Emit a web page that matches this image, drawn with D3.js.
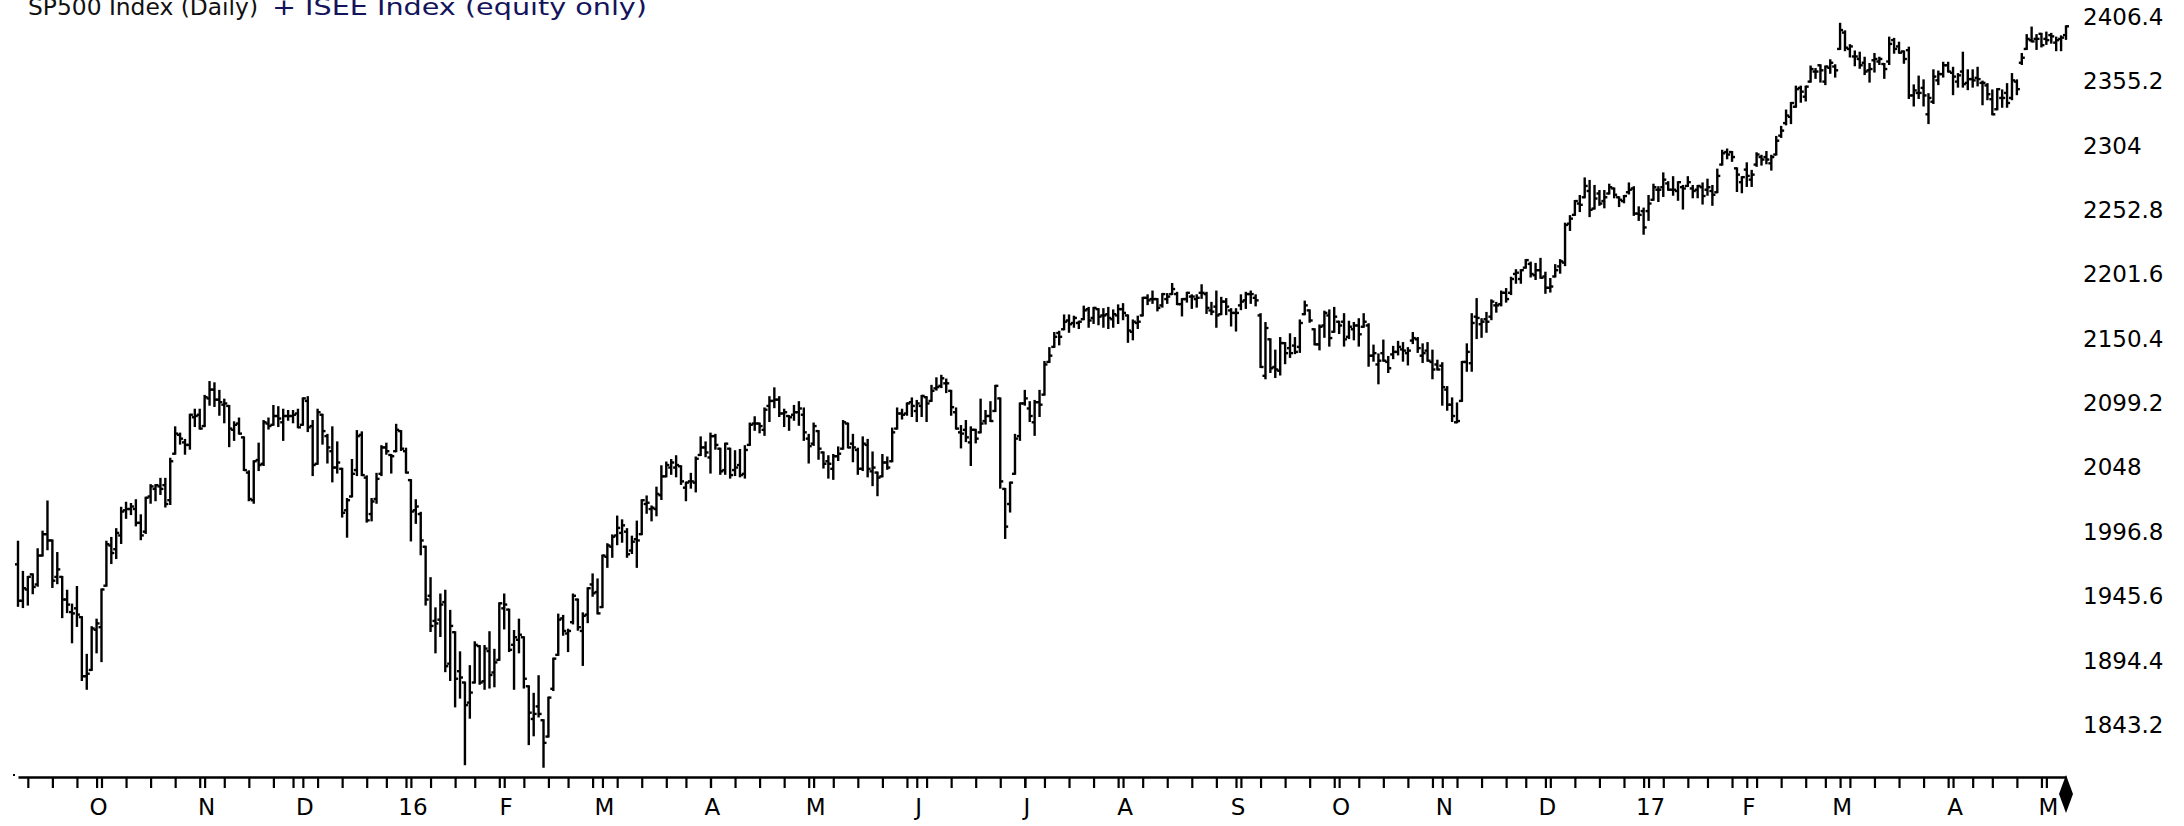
<!DOCTYPE html>
<html>
<head>
<meta charset="utf-8">
<script src="https://cdn.jsdelivr.net/npm/d3@7"></script>
<style>
  body { margin: 0; background: #fff; }
  svg { display: block; }
</style>
</head>
<body>
<div id="chart"></div>
<script>
// Data: daily OHLC, first bar 2015-09-09, one value per trading day
var startDate = "2015-09-09";
var holidays = ["2015-11-26", "2015-12-25", "2016-01-01", "2016-01-18", "2016-02-15", "2016-03-25",
  "2016-05-30", "2016-07-04", "2016-09-05", "2016-11-24", "2016-12-26", "2017-01-02",
  "2017-01-16", "2017-02-20", "2017-04-14"];

var openVals = [
  // Sep 15
  1971,1942,1951,1963,1955,1978,1995,1990,1961,1961,1943,1933,1936,1929,1882,1887,
  // Oct 15
  1919,1921,1954,1986,1983,1994,2014,2015,2015,2004,1997,2025,2031,2033,2034,2022,2059,2074,2068,2066,2088,2090,
  // Nov 15
  2081,2103,2110,2102,2098,2097,2078,2083,2072,2044,2022,2054,2051,2083,2082,2089,2084,2089,2089,2091,
  // Dec 15
  2082,2101,2081,2051,2090,2073,2061,2048,2047,2014,2025,2046,2074,2040,2011,2023,2043,2064,2058,2061,2077,2061,
  // Jan 16
  2038,2014,2011,1985,1946,1926,1927,1941,1892,1917,1886,1877,1861,1877,1906,1878,1902,1885,1895,
  // Feb 16
  1936,1935,1907,1911,1913,1874,1848,1858,1847,1834,1872,1899,1928,1916,1925,1943,1918,1931,1955,1949,
  // Mar 16
  1937,1977,1985,1994,1996,1997,1982,1991,1995,2019,2015,2015,2026,2041,2048,2048,2049,2032,2037,2036,2058,2064,
  // Apr 16
  2056,2073,2063,2046,2063,2046,2050,2043,2066,2083,2083,2078,2097,2101,2102,2091,2089,2090,2092,2090,2071,
  // May 16
  2067,2077,2060,2053,2047,2057,2063,2083,2067,2062,2047,2066,2045,2044,2041,2052,2053,2079,2091,2091,2100,
  // Jun 16
  2093,2097,2104,2101,2111,2113,2115,2109,2092,2076,2078,2068,2078,2076,2085,2089,2093,2103,2031,2019,2043,2073,
  // Jul 16
  2099,2095,2084,2100,2106,2132,2144,2155,2158,2165,2163,2163,2166,2174,2167,2174,2169,2170,2166,2169,
  // Aug 16
  2174,2169,2156,2163,2169,2183,2182,2182,2177,2182,2186,2186,2178,2182,2184,2182,2187,2186,2173,2176,2170,2180,2173,
  // Sep 16
  2171,2177,2181,2186,2183,2169,2121,2150,2128,2125,2147,2143,2145,2144,2170,2173,2158,2146,2161,2169,2156,
  // Oct 16
  2164,2164,2152,2158,2161,2160,2161,2137,2130,2139,2132,2138,2140,2142,2139,2149,2150,2137,2141,2132,2130,
  // Nov 16
  2129,2110,2098,2084,2101,2132,2131,2168,2162,2166,2168,2177,2178,2187,2187,2202,2198,2207,2210,2201,2205,
  // Dec 16
  2200,2191,2200,2208,2211,2242,2249,2258,2263,2268,2254,2266,2260,2266,2270,2263,2260,2267,2270,2250,2252,
  // Jan 17
  2252,2261,2269,2271,2274,2269,2268,2271,2272,2270,2269,2271,2269,2268,2267,2289,2299,2299,2286,2275,
  // Feb 17
  2285,2277,2289,2295,2295,2290,2297,2312,2322,2327,2335,2350,2343,2355,2363,2368,2355,2366,2367,
  // Mar 17
  2381,2394,2381,2375,2373,2370,2364,2372,2371,2369,2371,2388,2383,2379,2380,2344,2346,2350,2329,2339,2356,2361,2368,
  // Apr 17
  2362,2355,2363,2354,2357,2358,2354,2352,2341,2333,2342,2346,2342,2355,2370,2381,2388,2389,2393,
  // May 17
  2389,2392,2386,2389,2392
];

var highVals = [
  1989,1965,1961,1963,1983,1997,2021,1990,1980,1961,1950,1939,1953,1929,1899,1921,
  1927,1951,1989,1992,1999,2016,2020,2019,2022,2010,2024,2034,2034,2039,2039,2055,2080,2075,2070,2090,2094,2094,
  2105,2116,2115,2109,2102,2097,2084,2087,2072,2045,2053,2067,2085,2087,2097,2096,2094,2093,2093,2094,
  2103,2104,2085,2094,2090,2074,2080,2068,2047,2023,2054,2077,2076,2041,2023,2043,2065,2067,2058,2082,2077,2063,
  2038,2022,2012,1985,1960,1936,1947,1950,1934,1917,1901,1877,1890,1909,1906,1906,1917,1903,1940,
  1947,1935,1918,1927,1913,1874,1868,1882,1847,1865,1896,1931,1930,1919,1947,1943,1932,1952,1963,1959,
  1978,1987,1994,2009,2006,1999,1993,2005,2022,2025,2017,2032,2049,2052,2054,2057,2049,2036,2043,2056,2072,2068,
  2075,2074,2063,2067,2063,2061,2062,2065,2083,2088,2083,2095,2104,2111,2104,2094,2089,2097,2100,2095,2074,
  2083,2077,2060,2057,2058,2064,2085,2083,2074,2063,2072,2070,2060,2044,2058,2056,2079,2095,2094,2099,2103,
  2101,2105,2104,2113,2119,2121,2118,2109,2095,2081,2085,2080,2078,2102,2093,2100,2113,2103,2031,2036,2074,2099,
  2109,2100,2101,2109,2132,2143,2155,2156,2169,2169,2168,2164,2176,2175,2175,2174,2174,2175,2173,2177,
  2178,2169,2165,2168,2183,2185,2188,2182,2186,2186,2194,2187,2182,2187,2185,2185,2193,2187,2179,2188,2183,2182,2174,
  2174,2185,2187,2188,2185,2170,2163,2150,2141,2151,2147,2154,2151,2165,2180,2173,2158,2161,2172,2173,2175,
  2164,2170,2164,2163,2166,2170,2162,2145,2138,2149,2136,2144,2148,2147,2143,2155,2151,2146,2147,2141,2133,
  2131,2112,2103,2099,2132,2146,2170,2182,2166,2171,2181,2179,2188,2190,2199,2205,2205,2213,2211,2210,2214,
  2203,2198,2209,2213,2242,2248,2260,2264,2278,2276,2272,2268,2268,2273,2270,2263,2264,2274,2271,2255,2254,
  2264,2273,2271,2282,2275,2279,2275,2272,2279,2272,2272,2274,2277,2272,2285,2300,2301,2299,2286,2279,
  2290,2284,2298,2296,2299,2296,2311,2319,2332,2338,2351,2351,2351,2367,2365,2368,2367,2372,2368,
  2401,2395,2384,2379,2378,2374,2369,2377,2374,2369,2390,2389,2386,2379,2382,2352,2359,2356,2345,2364,2363,2370,2370,
  2366,2361,2378,2364,2364,2366,2355,2353,2348,2349,2348,2353,2361,2356,2377,2392,2398,2392,2393,
  2394,2393,2390,2391,2399
];

var lowVals = [
  1938,1937,1939,1948,1954,1978,1983,1953,1956,1929,1933,1909,1922,1879,1872,1887,
  1901,1894,1954,1972,1976,1988,2008,2011,2002,1991,1996,2020,2022,2027,2017,2019,2059,2067,2059,2063,2081,2079,
  2081,2098,2097,2090,2084,2065,2070,2075,2046,2022,2020,2046,2050,2079,2082,2081,2070,2086,2084,2080,
  2082,2077,2042,2051,2067,2052,2037,2044,2009,1993,2025,2042,2042,2005,2006,2020,2042,2059,2044,2061,2062,2044,
  1990,2004,1979,1939,1918,1901,1914,1886,1879,1858,1865,1812,1849,1877,1876,1872,1873,1874,1895,
  1920,1902,1872,1901,1873,1828,1835,1850,1810,1834,1871,1899,1915,1902,1924,1919,1891,1925,1946,1932,
  1937,1969,1977,1987,1989,1977,1980,1969,1995,2012,2006,2010,2023,2041,2043,2041,2035,2022,2032,2029,2058,2057,
  2044,2063,2043,2043,2040,2042,2041,2040,2066,2078,2076,2074,2085,2096,2089,2081,2078,2086,2082,2070,2052,
  2066,2055,2048,2040,2039,2054,2063,2064,2053,2043,2046,2041,2034,2026,2041,2047,2053,2079,2087,2090,2089,
  2085,2089,2085,2101,2110,2112,2108,2090,2079,2064,2069,2050,2068,2076,2083,2085,2093,2032,1992,2013,2043,2070,
  2098,2085,2074,2089,2106,2132,2144,2146,2158,2156,2160,2159,2166,2160,2163,2162,2160,2159,2160,2163,
  2166,2148,2150,2159,2169,2178,2179,2173,2176,2179,2186,2178,2169,2180,2175,2176,2183,2171,2170,2160,2170,2170,2161,
  2157,2174,2175,2179,2177,2128,2119,2124,2120,2122,2131,2136,2139,2140,2170,2164,2146,2142,2152,2145,2156,
  2155,2145,2151,2150,2145,2160,2129,2133,2115,2133,2124,2135,2138,2133,2130,2147,2140,2132,2133,2119,2126,
  2098,2094,2085,2084,2101,2125,2125,2151,2152,2156,2166,2172,2177,2180,2186,2195,2195,2207,2200,2198,2199,
  2187,2188,2200,2203,2209,2237,2249,2252,2263,2248,2254,2257,2255,2266,2263,2256,2259,2266,2249,2245,2234,
  2245,2261,2260,2264,2269,2265,2261,2254,2272,2263,2263,2258,2265,2257,2267,2289,2294,2292,2268,2267,
  2272,2272,2288,2289,2290,2285,2297,2311,2321,2322,2335,2339,2340,2355,2358,2355,2353,2362,2359,
  2381,2380,2375,2368,2366,2361,2355,2363,2369,2358,2369,2378,2378,2370,2342,2336,2342,2336,2322,2338,2353,2359,2363,
  2345,2351,2351,2349,2351,2352,2337,2341,2329,2333,2335,2335,2341,2345,2369,2381,2387,2381,2383,
  2385,2386,2380,2380,2389
];

var closeVals = [
  1942,1952,1961,1953,1978,1995,1990,1958,1967,1943,1939,1932,1931,1882,1884,1920,
  1924,1951,1987,1980,1996,2013,2015,2017,2004,1994,2024,2033,2034,2031,2019,2053,2075,2071,2066,2090,2089,2079,
  2104,2110,2102,2100,2099,2079,2082,2075,2046,2023,2053,2050,2084,2081,2089,2087,2089,2089,2090,2080,
  2103,2080,2050,2092,2077,2064,2048,2052,2012,2022,2043,2073,2042,2006,2021,2039,2064,2061,2057,2078,2063,2044,
  2013,2017,1990,1943,1922,1924,1939,1890,1922,1880,1881,1859,1869,1907,1877,1904,1883,1893,1940,
  1939,1903,1913,1915,1880,1853,1852,1852,1829,1865,1896,1927,1918,1918,1946,1921,1930,1952,1948,1932,
  1978,1986,1993,2000,2002,1979,1989,1990,2022,2020,2016,2027,2041,2050,2052,2050,2037,2036,2037,2055,2064,2060,
  2073,2066,2045,2067,2042,2048,2042,2062,2082,2083,2081,2094,2101,2102,2091,2092,2088,2092,2095,2076,2065,
  2081,2063,2051,2051,2057,2059,2084,2064,2064,2047,2067,2047,2048,2040,2052,2048,2076,2091,2090,2099,2097,
  2099,2105,2099,2109,2112,2119,2115,2096,2079,2075,2072,2078,2071,2083,2089,2085,2113,2037,2001,2036,2071,2099,
  2103,2089,2100,2098,2130,2137,2152,2152,2164,2162,2167,2164,2173,2165,2175,2168,2169,2167,2170,2174,
  2171,2157,2164,2164,2183,2181,2182,2175,2186,2184,2190,2178,2182,2187,2184,2183,2187,2175,2172,2169,2180,2176,2171,
  2171,2180,2186,2186,2181,2128,2159,2127,2126,2147,2139,2139,2140,2163,2177,2165,2146,2160,2171,2151,2168,
  2161,2150,2160,2161,2154,2164,2137,2139,2133,2133,2127,2140,2144,2141,2141,2151,2143,2139,2133,2126,2126,
  2112,2098,2089,2085,2132,2140,2163,2167,2164,2164,2180,2177,2187,2182,2198,2203,2205,2213,2202,2205,2199,
  2191,2192,2205,2212,2241,2246,2260,2257,2272,2253,2262,2258,2263,2271,2265,2261,2264,2269,2250,2249,2239,
  2258,2271,2269,2277,2269,2269,2275,2270,2275,2268,2272,2264,2271,2265,2280,2298,2297,2295,2281,2279,
  2280,2281,2297,2293,2293,2295,2308,2316,2328,2338,2349,2347,2351,2365,2363,2364,2367,2370,2364,
  2396,2382,2383,2375,2368,2363,2365,2373,2373,2365,2385,2381,2378,2373,2344,2348,2346,2344,2342,2359,2361,2368,2363,
  2359,2360,2353,2357,2356,2357,2354,2345,2329,2349,2342,2338,2356,2349,2374,2389,2387,2389,2384,
  2388,2391,2388,2390,2399
];

// Tick labels
var yTicks = [1843.2, 1894.4, 1945.6, 1996.8, 2048, 2099.2, 2150.4, 2201.6, 2252.8, 2304, 2355.2, 2406.4];
var monthLabels = ["O", "N", "D", "16", "F", "M", "A", "M", "J", "J", "A", "S", "O", "N", "D", "17", "F", "M", "A", "M"];
var titleMain = "SP500 Index (Daily)";
var titleSub = "+ ISEE Index (equity only)";

// svg container
var svgWidth = 2184;
var svgHeight = 826;
var axisY = 777;
var fontFamily = "'DejaVu Sans', sans-serif";

var svg = d3.select("#chart").append("svg")
  .attr("width", svgWidth)
  .attr("height", svgHeight);

// Build trading days from the start date, skipping weekends and holidays
var fmtDay = d3.timeFormat("%Y-%m-%d");
var dates = [];
var cur = new Date(startDate + "T12:00:00");
while (dates.length < closeVals.length) {
  var wd = cur.getDay();
  if (wd !== 0 && wd !== 6 && holidays.indexOf(fmtDay(cur)) < 0) dates.push(new Date(cur));
  cur.setDate(cur.getDate() + 1);
}

var bars = closeVals.map(function(c, i) {
  return { i: i, date: dates[i], o: openVals[i], h: highVals[i], l: lowVals[i], c: c };
});
var n = bars.length;

// Scales
var xScale = d3.scaleLinear()
  .domain([0, n - 1])
  .range([18, 2066]);

var yScale = d3.scaleLinear()
  .domain([1843.2, 2406.4])
  .range([725, 17]);

// Title (its top is clipped by the frame like in the original)
svg.append("text")
  .attr("x", 28).attr("y", 15)
  .attr("textLength", 230).attr("lengthAdjust", "spacingAndGlyphs")
  .style("font-family", fontFamily).style("font-size", "23px")
  .attr("fill", "#111")
  .text(titleMain);
svg.append("text")
  .attr("x", 272).attr("y", 15)
  .attr("textLength", 375).attr("lengthAdjust", "spacingAndGlyphs")
  .style("font-family", fontFamily).style("font-size", "23px")
  .attr("fill", "#14145c")
  .text(titleSub);

// OHLC bars
var barGroup = svg.append("g")
  .attr("stroke", "#000")
  .attr("stroke-width", 2.4);

var bar = barGroup.selectAll("g.bar")
  .data(bars)
  .enter()
  .append("g")
  .attr("class", "bar");

bar.append("line")
  .attr("x1", function(d) { return xScale(d.i); })
  .attr("x2", function(d) { return xScale(d.i); })
  .attr("y1", function(d) { return yScale(d.h) - 1; })
  .attr("y2", function(d) { return yScale(d.l) + 1; });

bar.append("line")
  .attr("x1", function(d) { return xScale(d.i) - 3; })
  .attr("x2", function(d) { return xScale(d.i); })
  .attr("y1", function(d) { return yScale(d.o); })
  .attr("y2", function(d) { return yScale(d.o); });

bar.append("line")
  .attr("x1", function(d) { return xScale(d.i); })
  .attr("x2", function(d) { return xScale(d.i) + 3; })
  .attr("y1", function(d) { return yScale(d.c); })
  .attr("y2", function(d) { return yScale(d.c); });

// X axis: weekly ticks on the last day of each week, plus a tick on each month start
var weekEnds = [];
var monthStarts = [];
bars.forEach(function(d, i) {
  if (i < n - 1 && +d3.timeMonday.floor(dates[i + 1]) !== +d3.timeMonday.floor(dates[i])) weekEnds.push(i);
  if (i > 0 && dates[i].getMonth() !== dates[i - 1].getMonth()) monthStarts.push(i);
});

var bottomAxis = d3.axisBottom(xScale)
  .tickValues(weekEnds.concat(monthStarts))
  .tickSize(11)
  .tickSizeOuter(0)
  .tickFormat("");

var xAxisG = svg.append("g")
  .attr("transform", "translate(0," + axisY + ")")
  .call(bottomAxis);
xAxisG.select(".domain").attr("stroke", "#000").attr("stroke-width", 2.4);
xAxisG.selectAll(".tick line").attr("stroke", "#000").attr("stroke-width", 2.2);

svg.append("rect")
  .attr("x", 13).attr("y", axisY - 3).attr("width", 2).attr("height", 2)
  .attr("fill", "#000");

svg.selectAll("text.month")
  .data(monthStarts)
  .enter()
  .append("text")
  .attr("class", "month")
  .attr("x", function(i) { return xScale(i) + 2; })
  .attr("y", 815)
  .attr("text-anchor", "middle")
  .style("font-family", fontFamily)
  .style("font-size", "23px")
  .attr("fill", "#000")
  .text(function(i, k) { return monthLabels[k]; });

// end-of-data marker on the axis
var xe = xScale(n - 1);
svg.append("path")
  .attr("d", "M" + xe + "," + (axisY - 2) + " L" + (xe + 7) + "," + (axisY + 17) +
    " L" + xe + "," + (axisY + 36) + " L" + (xe - 7) + "," + (axisY + 17) + " Z")
  .attr("fill", "#000");

// Y axis labels on the right
var rightAxis = d3.axisRight(yScale)
  .tickValues(yTicks)
  .tickSize(0)
  .tickPadding(0)
  .tickFormat(function(v) { return String(v); });

var yAxisG = svg.append("g")
  .attr("transform", "translate(2083,0)")
  .call(rightAxis);
yAxisG.select(".domain").remove();
yAxisG.selectAll("text")
  .style("font-family", fontFamily)
  .style("font-size", "23px")
  .attr("fill", "#000");
</script>
</body>
</html>
